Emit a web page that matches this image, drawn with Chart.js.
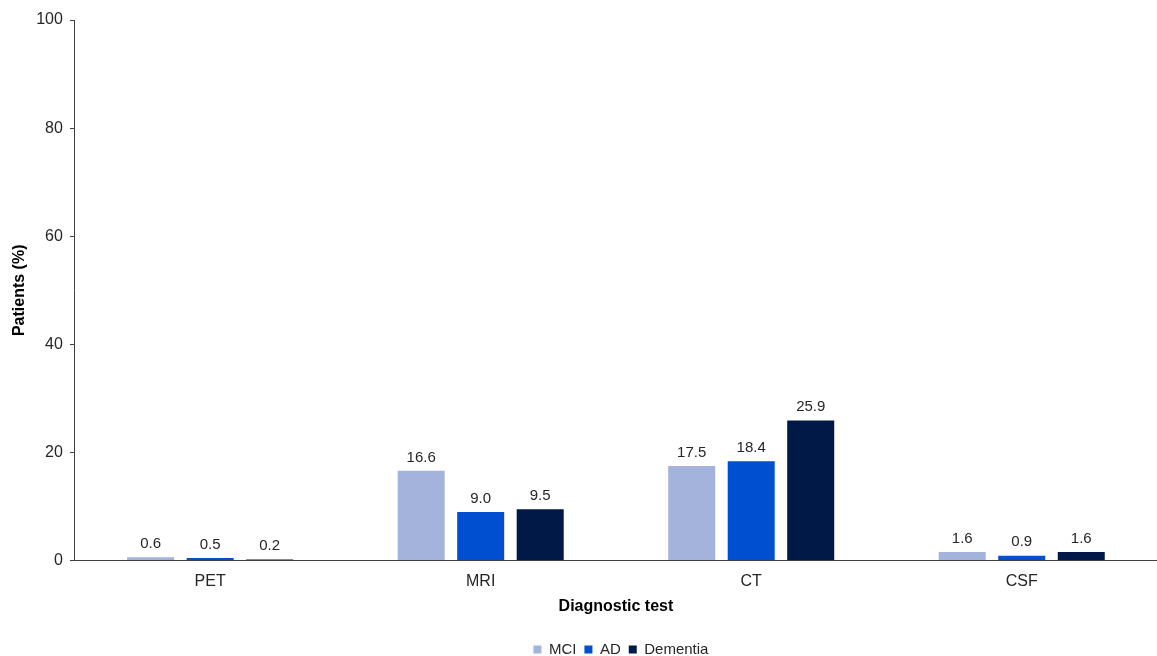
<!DOCTYPE html>
<html>
<head>
<meta charset="utf-8">
<script src="https://cdn.jsdelivr.net/npm/chart.js@4.4.1/dist/chart.umd.min.js"></script>
<style>
    html, body { margin: 0; padding: 0; background: #fff; }
    #wrap { width: 1157px; height: 656px; }
</style>
</head>
<body>
<div id="wrap"><canvas id="chart" width="1157" height="656"></canvas></div>
<script>
const categories = ["PET", "MRI", "CT", "CSF"];
const seriesNames = ["MCI", "AD", "Dementia"];
const mciValues = [0.6, 16.6, 17.5, 1.6];
const adValues = [0.5, 9.0, 18.4, 0.9];
const dementiaValues = [0.2, 9.5, 25.9, 1.6];
const yTicks = [0, 20, 40, 60, 80, 100];

const colors = ["#a4b3dc", "#004fd1", "#001946"];
const font = "'Liberation Sans', Arial, sans-serif";

// values above each bar
const valueLabels = {
    id: "valueLabels",
    afterDatasetsDraw(chart) {
        const ctx = chart.ctx;
        ctx.save();
        ctx.font = "15px " + font;
        ctx.fillStyle = "#262626";
        ctx.textAlign = "center";
        ctx.textBaseline = "bottom";
        chart.data.datasets.forEach((ds, i) => {
            chart.getDatasetMeta(i).data.forEach((bar, j) => {
                ctx.fillText(ds.data[j].toFixed(1), bar.x, bar.y - 6);
            });
        });
        ctx.restore();
    }
};

// legend sits centred under the plot area, not the whole canvas
const legendShift = {
    id: "legendShift",
    afterLayout(chart) {
        const lg = chart.legend;
        const dx = (chart.chartArea.left + chart.chartArea.right) / 2 - (lg.left + lg.right) / 2 + 5;
        lg.left += dx;
        lg.right += dx;
    }
};

new Chart(document.getElementById("chart").getContext("2d"), {
    type: "bar",
    data: {
        labels: categories,
        datasets: [
            { label: seriesNames[0], data: mciValues, backgroundColor: colors[0] },
            { label: seriesNames[1], data: adValues, backgroundColor: colors[1] },
            { label: seriesNames[2], data: dementiaValues, backgroundColor: colors[2] }
        ]
    },
    options: {
        responsive: false,
        animation: false,
        barPercentage: 0.79,
        categoryPercentage: 0.66,
        layout: { padding: { top: 20, right: 0, left: 10, bottom: -11 } },
        plugins: {
            tooltip: { enabled: false },
            legend: {
                position: "bottom",
                labels: {
                    font: { family: font, size: 15 },
                    color: "#262626",
                    boxWidth: 8,
                    boxHeight: 8,
                    padding: 8
                }
            }
        },
        scales: {
            x: {
                grid: { display: false },
                border: { display: true, color: "#404040", width: 1 },
                ticks: { font: { family: font, size: 16 }, color: "#262626", padding: 3 },
                title: {
                    display: true,
                    text: "Diagnostic test",
                    font: { family: font, size: 16, weight: "bold" },
                    color: "#000",
                    padding: { top: 3, bottom: 18 }
                }
            },
            y: {
                min: 0,
                max: 100,
                afterBuildTicks(axis) {
                    axis.ticks = yTicks.map(v => ({ value: v }));
                },
                grid: { display: true, drawOnChartArea: false, drawTicks: true, tickLength: 5, color: "#404040" },
                border: { display: true, color: "#404040", width: 1 },
                ticks: { font: { family: font, size: 16 }, color: "#262626", padding: 7 },
                title: {
                    display: true,
                    text: "Patients (%)",
                    font: { family: font, size: 16, weight: "bold" },
                    color: "#000",
                    padding: { top: 0, bottom: 0 }
                }
            }
        }
    },
    plugins: [valueLabels, legendShift]
});
</script>
</body>
</html>
